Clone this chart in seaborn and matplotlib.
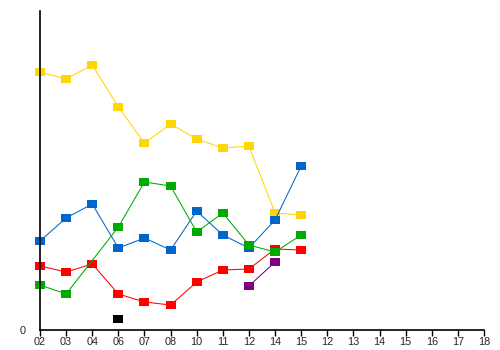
import numpy as np
import pandas as pd
import matplotlib
matplotlib.use("Agg")
import matplotlib.pyplot as plt
import seaborn as sns
from matplotlib.path import Path

tick_labels = ["02", "03", "04", "06", "07", "08", "10", "11", "12", "14", "15",
               "12", "13", "14", "15", "16", "17", "18"]
nan = np.nan
yellow = [258, 251, 265, 223, 187, 206, 191, 182, 184, 117, 115]
blue = [89, 112, 126, 82, 92, 80, 119, 95, 82, 110, 164]
green = [45, 36, nan, 103, 148, 144, 98, 117, 85, 78, 95]
red = [64, 58, 66, 36, 28, 25, 48, 60, 61, 81, 80]
purple = [nan, nan, nan, nan, nan, nan, nan, nan, 44, 68, nan]
black = [nan, nan, nan, 11, nan, nan, nan, nan, nan, nan, nan]

series = [("yellow", yellow, "#FFD700"), ("blue", blue, "#0066CC"),
          ("red", red, "#FF0000"), ("green", green, "#00AA00"),
          ("purple", purple, "#800080"), ("black", black, "#000000")]

sns.set_style("white")
plt.rcParams['font.family'] = ['Liberation Sans', 'DejaVu Sans']

fig = plt.figure(figsize=(5, 3.5), dpi=100)
ax = fig.add_axes([0.08, 20 / 350, 444 / 500, 319 / 350])

rect = Path([(-1, -0.7), (1, -0.7), (1, 0.7), (-1, 0.7), (-1, -0.7)],
            [Path.MOVETO, Path.LINETO, Path.LINETO, Path.LINETO, Path.CLOSEPOLY])

for name, vals, col in series:
    df = pd.DataFrame({"x": np.arange(len(vals)), "y": vals}).dropna()
    sns.lineplot(data=df, x="x", y="y", ax=ax, color=col, linewidth=0.75,
                 marker=rect, markersize=7.5, markeredgewidth=0,
                 markerfacecolor=col, sort=False, clip_on=False)

ax.set_xlim(0, 17)
ax.set_ylim(0, 319)
ax.set_xticks(np.arange(len(tick_labels)))
ax.set_xticklabels(tick_labels)
ax.set_yticks([0])
ax.set_yticklabels(["0"])
ax.set_xlabel("")
ax.set_ylabel("")
for s in ["top", "right"]:
    ax.spines[s].set_visible(False)
for s in ["left", "bottom"]:
    ax.spines[s].set_color("black")
    ax.spines[s].set_linewidth(1.2)
ax.tick_params(axis="x", direction="out", length=4, width=1, color="black",
               labelsize=7.8, pad=1, bottom=True)
ax.tick_params(axis="y", length=0, labelsize=7.8, pad=10)
ax.grid(False)
fig.savefig("out.png", dpi=100)
